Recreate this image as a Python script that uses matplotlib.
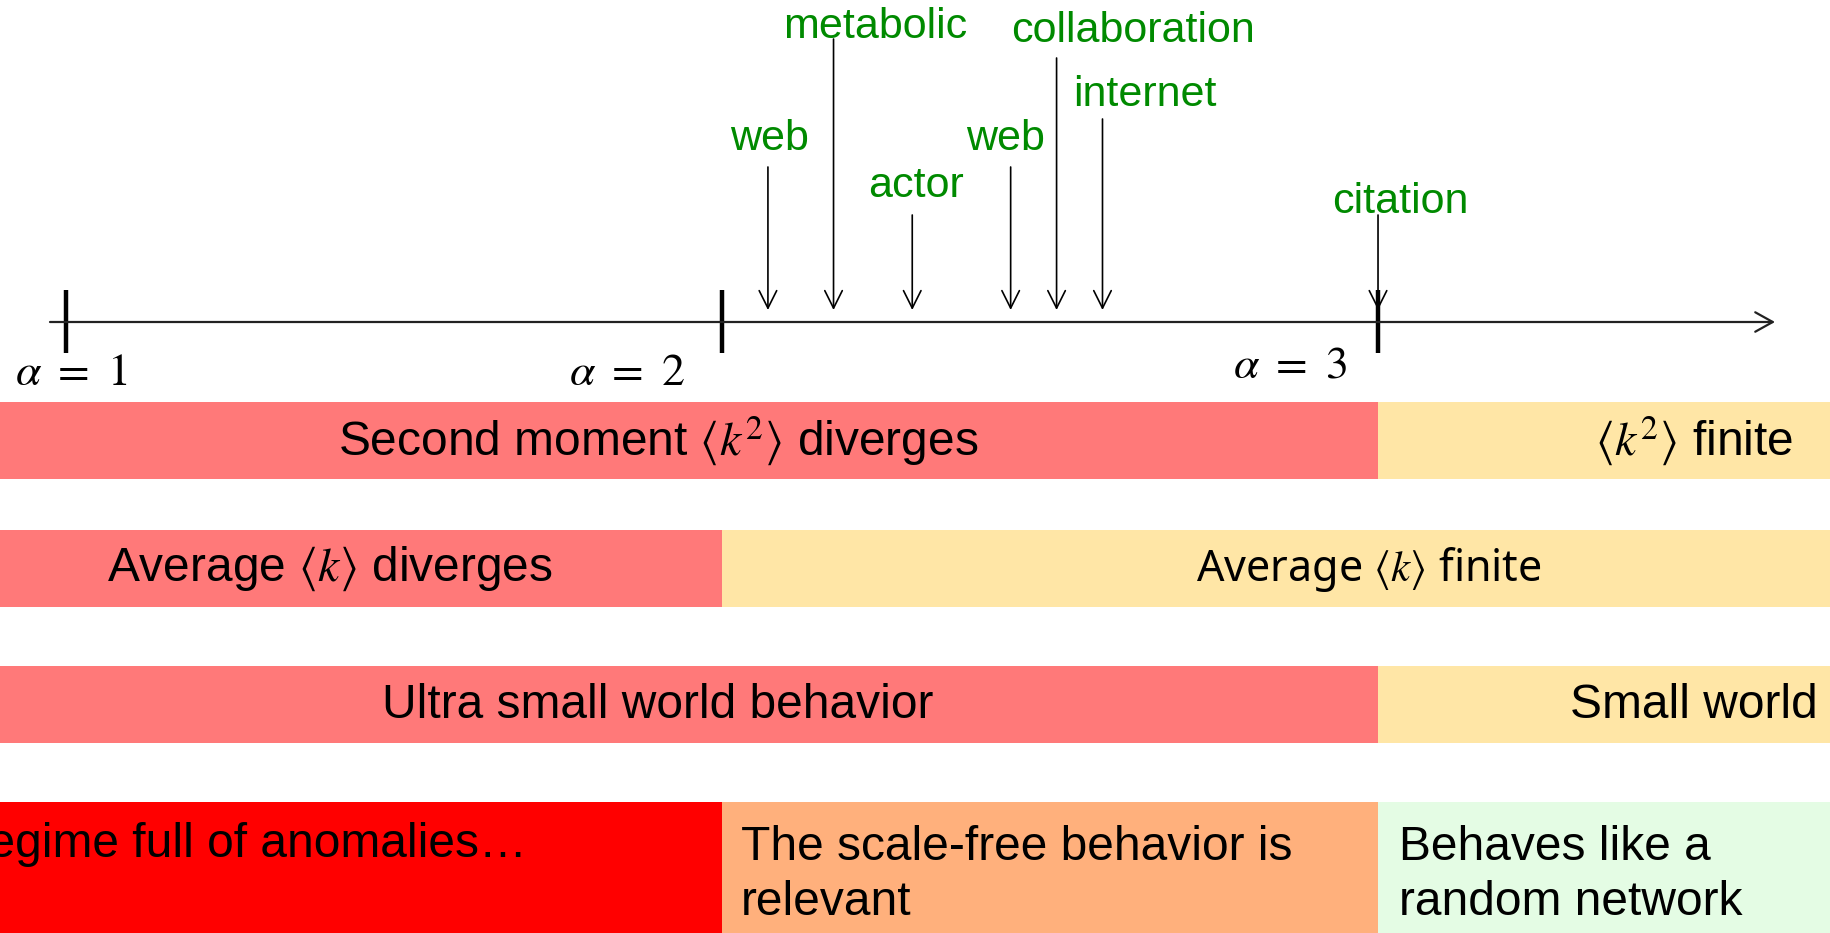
import matplotlib.pyplot as plt

plt.rcParams.update({
    "font.family": ["Liberation Sans", "DejaVu Sans"],
    "mathtext.fontset": "stix",
})

# ---- data ----
alpha_ticks = [1, 2, 3]
alpha_labels = [r"$\alpha\ =\ 1$", r"$\alpha\ =\ 2$", r"$\alpha\ =\ 3$"]

network_names = ["web", "metabolic", "actor", "web", "collaboration", "internet", "citation"]
network_alpha = [2.07, 2.17, 2.29, 2.44, 2.51, 2.58, 3.0]

XMIN, XMAX = 0.8994, 3.6905   # visible alpha range

# bar rows: segment edges (alpha), colours and texts
row1_edges = [XMIN, 3.0, XMAX]
row1_texts = [r"Second moment $\langle k^2\rangle$ diverges", r"$\langle k^2\rangle$ finite"]
row2_edges = [XMIN, 2.0, XMAX]
row2_texts = [r"Average $\langle k\rangle$ diverges", r"Average $\langle k\rangle$ finite"]
row3_edges = [XMIN, 3.0, XMAX]
row3_texts = ["Ultra small world behavior", "Small world"]
row4_edges = [XMIN, 2.0, 3.0, XMAX]
row4_texts = ["Regime full of anomalies\u2026", "The scale-free behavior is\nrelevant",
              "Behaves like a\nrandom network"]

SALMON, YELLOW = "#FF7979", "#FFE6A6"
row1_colors = [SALMON, YELLOW]
row2_colors = [SALMON, YELLOW]
row3_colors = [SALMON, YELLOW]
row4_colors = ["#FF0000", "#FFB07C", "#E4FCE4"]

# ---- figure: y axis in pixels from the top ----
fig = plt.figure(figsize=(18.31, 9.33), dpi=100)
ax = fig.add_axes([0, 0, 1, 1])
ax.set_xlim(XMIN, XMAX)
ax.set_ylim(933, 0)
ax.axis("off")

px = 1 / 656.0  # alpha per pixel

# main axis with arrow
ax.annotate("", xy=(XMIN + 1775 * px, 322), xytext=(XMIN + 50 * px, 322),
            arrowprops=dict(arrowstyle="->,head_length=0.9,head_width=0.5",
                            color="#222222", lw=1.6, mutation_scale=14,
                            shrinkA=0, shrinkB=0))
ax.vlines(alpha_ticks, 290, 353, color="black", lw=3.2)
label_dx = [0.008, -0.145, -0.134]
label_y = [385, 385, 377]
for a, lab, dx, y in zip(alpha_ticks, alpha_labels, label_dx, label_y):
    ax.text(a + dx, y, lab, fontsize=33, ha="center", va="baseline")

# network arrows
arrow_top = [167, 39, 215, 167, 58, 119, 215]
text_dx = [0.003, 0.064, 0.005, -0.008, 0.117, 0.065, 0.034]
text_y = [150, 38, 197, 150, 42, 106, 213]
for a, name, top, dx, ty in zip(network_alpha, network_names, arrow_top, text_dx, text_y):
    ax.annotate("", xy=(a, 310), xytext=(a, top),
                arrowprops=dict(arrowstyle="->,head_length=0.9,head_width=0.45",
                                color="black", lw=1.2, mutation_scale=14,
                                shrinkA=0, shrinkB=0))
    ax.text(a + dx, ty, name, fontsize=31, color="#008A00", ha="center", va="baseline")

# bars
def draw_row(edges, colors, top, bottom):
    lefts = edges[:-1]
    widths = [r - l for l, r in zip(edges[:-1], edges[1:])]
    ax.barh([(top + bottom) / 2] * len(lefts), widths, left=lefts,
            height=bottom - top, color=colors, edgecolor="none")

draw_row(row1_edges, row1_colors, 402, 479)
draw_row(row2_edges, row2_colors, 530, 607)
draw_row(row3_edges, row3_colors, 666, 743)
draw_row(row4_edges, row4_colors, 802, 940)

fs = 34.5
ax.text(XMIN + 658 * px, 441, row1_texts[0], fontsize=fs, ha="center", va="center")
ax.text(XMIN + 1793 * px, 441, row1_texts[1], fontsize=fs, ha="right", va="center")
ax.text(XMIN + 330 * px, 569, row2_texts[0], fontsize=fs, ha="center", va="center")
ax.text(XMIN + 1369 * px, 569, row2_texts[1], fontsize=31, ha="center", va="center",
        family=["Noto Sans", "DejaVu Sans"])
ax.text(XMIN + 658 * px, 705, row3_texts[0], fontsize=fs, ha="center", va="center")
ax.text(XMIN + 1818 * px, 705, row3_texts[1], fontsize=fs, ha="right", va="center")

# last row: text hangs from the top; baseline given for the last line
ax.text(XMIN + 527 * px, 857, row4_texts[0], fontsize=fs, ha="right", va="baseline")
ax.text(XMIN + 741 * px, 915, row4_texts[1], fontsize=fs, ha="left", va="baseline",
        linespacing=1.3)
ax.text(XMIN + 1399 * px, 915, row4_texts[2], fontsize=fs, ha="left", va="baseline",
        linespacing=1.3)

fig.savefig("out.png", dpi=100)
